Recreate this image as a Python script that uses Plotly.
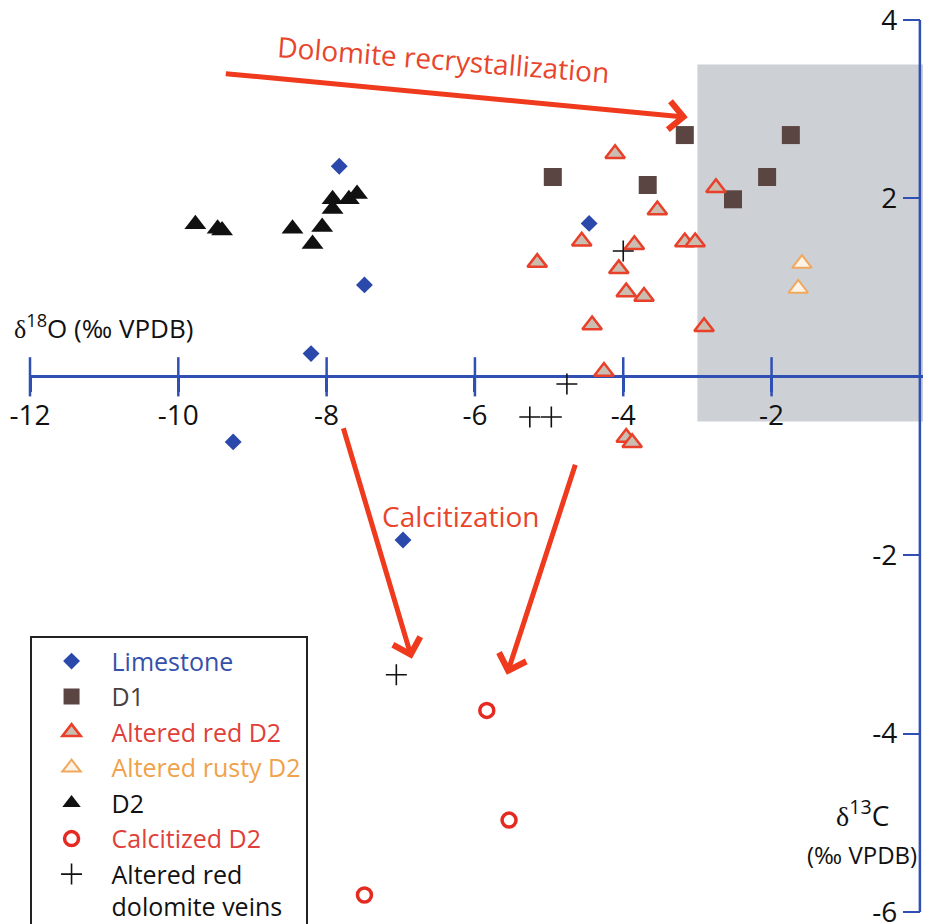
import plotly.graph_objects as go

# ---------------- data (δ18O, δ13C in ‰ VPDB) ----------------
limestone_x = [-7.83, -4.46, -7.49, -8.21, -9.26, -6.97]
limestone_y = [2.36, 1.72, 1.03, 0.26, -0.73, -1.83]

d1_x = [-4.95, -3.67, -3.17, -2.52, -2.06, -1.74]
d1_y = [2.24, 2.15, 2.71, 1.99, 2.24, 2.71]

red_d2_x = [-4.11, -3.54, -2.75, -4.56, -3.85, -3.17, -3.03, -5.16,
            -4.06, -3.96, -3.72, -4.42, -2.91, -4.26, -3.96, -3.88]
red_d2_y = [2.50, 1.87, 2.12, 1.52, 1.48, 1.51, 1.51, 1.28,
            1.21, 0.95, 0.90, 0.58, 0.56, 0.06, -0.68, -0.74]

rusty_d2_x = [-1.59, -1.64]
rusty_d2_y = [1.27, 0.99]

d2_x = [-9.77, -9.47, -9.41, -8.46, -8.19, -8.06, -7.92, -7.92, -7.70, -7.59]
d2_y = [1.71, 1.66, 1.64, 1.66, 1.49, 1.68, 1.88, 1.99, 1.99, 2.05]

calc_d2_x = [-5.84, -5.54, -7.49]
calc_d2_y = [-3.74, -4.97, -5.81]

veins_x = [-4.00, -4.76, -5.26, -4.97, -7.06]
veins_y = [1.41, -0.08, -0.45, -0.45, -3.34]

x_ticks = [-12, -10, -8, -6, -4, -2]
x_tick_text = ["-12", "-10", "-8", "-6", "-4", "-2"]
y_ticks = [-6, -4, -2, 2, 4]
y_tick_text = ["-6", "-4", "-2", "2", "4"]

x_range = [-12, 0.15]
y_range = [-6, 4]

# stable field (grey box)
box_x = [-3.0, 0.15]
box_y = [-0.5, 3.5]

# arrows: (tail x, tail y, head x, head y)
arrow_recryst = [-9.38, 3.40, -3.13, 2.91]
arrow_calc1 = [-7.78, -0.56, -6.85, -3.16]
arrow_calc2 = [-4.64, -0.97, -5.57, -3.34]

AXIS = "#2f4fb3"
ARROW = "#ef3a1e"
FONT = "Open Sans"

fig = go.Figure()

def add(name, x, y, symbol, size, color, lcolor, lw):
    fig.add_trace(go.Scatter(
        x=x, y=y, mode="markers", name=name,
        marker=dict(symbol=symbol, size=size, color=color,
                    line=dict(color=lcolor, width=lw)),
        hoverinfo="x+y"))

# vertical δ13C axis line at δ18O = 0
fig.add_trace(go.Scatter(
    x=[0, 0], y=y_range, mode="lines", showlegend=False, hoverinfo="skip",
    cliponaxis=False, line=dict(color=AXIS, width=2.5)))

add("<span style='color:#3550a8'>Limestone</span>", limestone_x, limestone_y,
    "diamond", 13, "#2b48ab", "#2b48ab", 0)
add("<span style='color:#4a4040'>D1</span>", d1_x, d1_y,
    "square", 18, "#5a4542", "#5a4542", 0)
add("<span style='color:#e0403a'>Altered red D2</span>", red_d2_x, red_d2_y,
    "triangle-up", 17, "#cbbdb0", "#e8402a", 2.5)
add("<span style='color:#f0a24a'>Altered rusty D2</span>", rusty_d2_x, rusty_d2_y,
    "triangle-up", 17, "#fdf3e6", "#f0a85e", 2)
add("<span style='color:#111'>D2</span>", d2_x, d2_y,
    "triangle-up", 19, "#111111", "#111111", 0)
add("<span style='color:#e0403a'>Calcitized D2</span>", calc_d2_x, calc_d2_y,
    "circle", 14, "white", "#e52a22", 3.5)
add("<span style='color:#111'>Altered red<br>dolomite veins</span>", veins_x, veins_y,
    "cross-thin-open", 15, "#111", "#111", 1.6)

# x-axis tick marks crossing the zero line (upper half)
fig.add_trace(go.Scatter(
    x=x_ticks, y=[0] * len(x_ticks), mode="markers", showlegend=False,
    hoverinfo="skip", cliponaxis=False,
    marker=dict(symbol="line-ns", size=28, line=dict(color=AXIS, width=2.5))))

fig.add_shape(type="rect", xref="x", yref="y", x0=box_x[0], x1=box_x[1],
              y0=box_y[0], y1=box_y[1], fillcolor="#cdd0d4",
              line=dict(width=0), layer="below")

def arrow(a):
    fig.add_annotation(x=a[2], y=a[3], ax=a[0], ay=a[1], xref="x", yref="y",
                       axref="x", ayref="y", text="", showarrow=True,
                       arrowhead=4, arrowsize=1.1, arrowwidth=5,
                       arrowcolor=ARROW, standoff=0)

arrow(arrow_recryst)
arrow(arrow_calc1)
arrow(arrow_calc2)

fig.add_annotation(x=-6.43, y=3.565, xref="x", yref="y", showarrow=False,
                   text="Dolomite recrystallization", textangle=4.5,
                   font=dict(size=28, color="#e8452c", family=FONT))
fig.add_annotation(x=-6.19, y=-1.56, xref="x", yref="y", showarrow=False,
                   text="Calcitization",
                   font=dict(size=28, color="#e8452c", family=FONT))

fig.add_annotation(x=-0.02, y=0.56, xref="paper", yref="y", showarrow=False,
                   xanchor="left",
                   text="<span style='font-family:Liberation Serif'>δ</span><sup>18</sup>O (‰ VPDB)",
                   font=dict(size=26, color="#111", family=FONT))
fig.add_annotation(x=-0.78, y=-4.90, xref="x", yref="y", showarrow=False,
                   text="<span style='font-family:Liberation Serif'>δ</span><sup>13</sup>C",
                   font=dict(size=28, color="#111", family=FONT))
fig.add_annotation(x=-0.78, y=-5.35, xref="x", yref="y", showarrow=False,
                   text="(‰ VPDB)",
                   font=dict(size=24, color="#111", family=FONT))

# the page body adds an 8 px offset, so the figure is 8 px smaller
fig.update_layout(
    width=923, height=916,
    margin=dict(l=22, r=0, t=12, b=12, autoexpand=False),
    paper_bgcolor="white", plot_bgcolor="white",
    font=dict(family=FONT, color="#111"),
    xaxis=dict(range=x_range, anchor="free",
               position=(0 - y_range[0]) / (y_range[1] - y_range[0]),
               showgrid=False, showline=False, zeroline=False,
               tickvals=x_ticks, ticktext=x_tick_text,
               ticks="outside", ticklen=14,
               tickcolor=AXIS, tickwidth=2.5, ticklabelstandoff=0,
               ticklabeloverflow="allow",
               tickfont=dict(size=28, color="#111", family=FONT)),
    yaxis=dict(range=y_range, anchor="free",
               position=(0 - x_range[0]) / (x_range[1] - x_range[0]),
               showgrid=False, showline=False,
               zeroline=True, zerolinecolor=AXIS, zerolinewidth=2.5,
               tickvals=y_ticks, ticktext=y_tick_text,
               ticks="outside", ticklen=17,
               tickcolor=AXIS, tickwidth=2, ticklabeloverflow="allow",
               tickfont=dict(size=28, color="#111", family=FONT)),
    legend=dict(x=-0.0005, y=0.309, xanchor="left", yanchor="top",
                bgcolor="white", bordercolor="#222", borderwidth=2,
                font=dict(size=25, family=FONT), itemwidth=70,
                valign="top", tracegroupgap=0),
    showlegend=True,
)

fig.write_html("out.html")
